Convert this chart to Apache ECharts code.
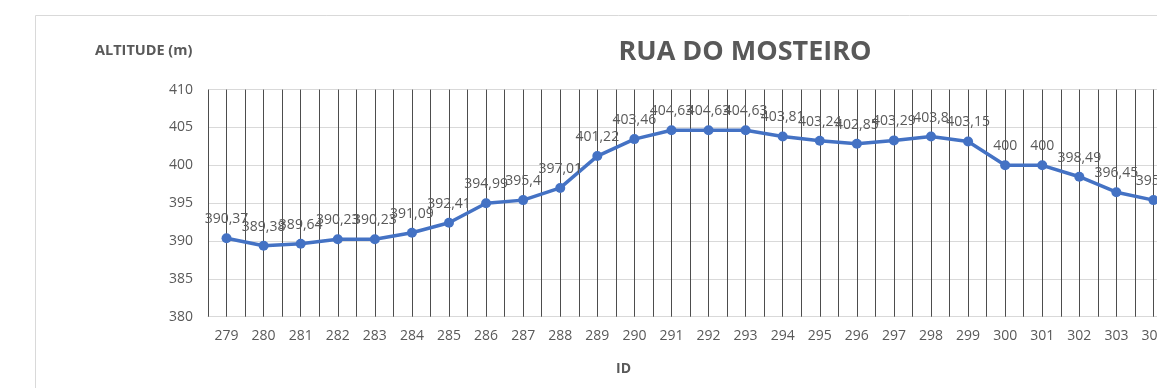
<!DOCTYPE html>
<html>
<head>
<meta charset="utf-8">
<script src="https://cdn.jsdelivr.net/npm/echarts@6/dist/echarts.min.js"></script>
<style>
  html, body { margin: 0; padding: 0; background: #ffffff; overflow: hidden; }
  #chart { width: 1200px; height: 388px; }
</style>
</head>
<body>
<div id="chart"></div>
<script>
// Point IDs along the street
const ids = ['279','280','281','282','283','284','285','286','287','288','289','290','291',
             '292','293','294','295','296','297','298','299','300','301','302','303','304'];
// Ground altitude at each point (m)
const altitude = [390.37, 389.38, 389.64, 390.23, 390.23, 391.09, 392.41, 394.99, 395.4, 397.01,
                  401.22, 403.46, 404.63, 404.63, 404.63, 403.81, 403.24, 402.85, 403.29, 403.8,
                  403.15, 400, 400, 398.49, 396.45, 395.4];
const titleText = 'RUA DO MOSTEIRO';
const yAxisName = 'ALTITUDE (m)';
const xAxisName = 'ID';

const font = '"Open Sans", "Noto Sans", sans-serif';
const textGrey = '#595959';

const chart = echarts.init(document.getElementById('chart'), null, { renderer: 'canvas' });

chart.setOption({
  animation: false,
  backgroundColor: '#ffffff',
  graphic: [
    {
      type: 'rect',
      shape: { x: 35.5, y: 15.5, width: 2000, height: 600 },
      style: { fill: 'none', stroke: '#d9d9d9', lineWidth: 1 },
      z: -10
    },
    {
      type: 'text',
      left: 95, top: 43,
      style: { text: yAxisName, font: 'bold 14.5px ' + font, fill: textGrey }
    },
    {
      type: 'text',
      left: 616, top: 362,
      style: { text: xAxisName, font: 'bold 14px ' + font, fill: textGrey }
    }
  ],
  title: {
    text: titleText,
    left: 740, top: 34,
    textAlign: 'center',
    textStyle: { fontFamily: font, fontWeight: 'bold', fontSize: 27, color: textGrey }
  },
  grid: { left: 208, right: 28, top: 89.6, bottom: 71.3, containLabel: false },
  xAxis: [
    {
      type: 'category',
      data: ids,
      boundaryGap: true,
      axisLine: { show: true, lineStyle: { color: '#d9d9d9' } },
      axisTick: { show: false },
      axisLabel: { color: textGrey, fontFamily: font, fontSize: 14, margin: 12 },
      splitLine: { show: false }
    },
    {
      // helper axis: vertical rules at every category centre and boundary
      type: 'value',
      min: -0.5,
      max: ids.length - 0.5,
      interval: 0.5,
      position: 'bottom',
      axisLine: { show: false },
      axisTick: { show: false },
      axisLabel: { show: false },
      splitLine: { show: true, lineStyle: { color: '#4d4d4d', width: 1 } },
      z: 1
    }
  ],
  yAxis: {
    type: 'value',
    min: 380, max: 410, interval: 5,
    axisLine: { show: false },
    axisTick: { show: false },
    axisLabel: { color: textGrey, fontFamily: font, fontSize: 14, margin: 15 },
    splitLine: { show: true, lineStyle: { color: '#d9d9d9', width: 1 } }
  },
  series: [{
    type: 'line',
    xAxisIndex: 0,
    data: altitude,
    symbol: 'circle',
    symbolSize: 10,
    lineStyle: { color: '#4472c4', width: 3.5 },
    itemStyle: { color: '#4472c4' },
    label: {
      show: true,
      position: 'top',
      distance: 7,
      color: textGrey,
      fontFamily: font,
      fontSize: 14,
      formatter: p => String(p.value).replace('.', ',')
    },
    z: 5
  }]
});
</script>
</body>
</html>
